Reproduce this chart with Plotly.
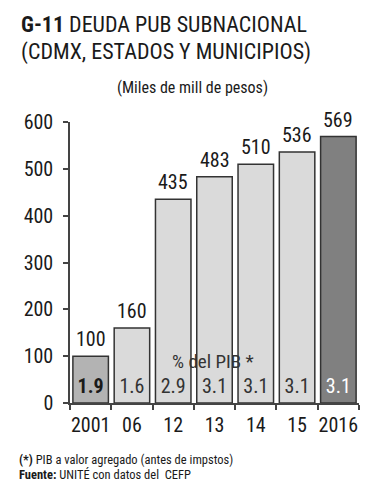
import plotly.graph_objects as go

categories = ["2001", "06", "12", "13", "14", "15", "2016"]
deuda = [100, 160, 435, 483, 510, 536, 569]
pct_pib = ["<b>1.9</b>", "1.6", "2.9", "3.1", "3.1", "3.1", "3.1"]
bar_colors = ["#b3b3b3", "#dadada", "#dadada", "#dadada", "#dadada", "#dadada", "#808080"]
pct_colors = ["#1a1a1a", "#333333", "#333333", "#333333", "#333333", "#333333", "#ffffff"]
y_ticks = [0, 100, 200, 300, 400, 500, 600]

FONT = "Roboto Condensed, Liberation Sans, sans-serif"
OFF = 8  # page body margin

fig = go.Figure()
fig.add_trace(go.Bar(
    x=categories, y=deuda,
    marker=dict(color=bar_colors, line=dict(color="#333333", width=1.5)),
    hoverinfo="skip", showlegend=False,
))
fig.add_trace(go.Scatter(
    x=categories, y=[32] * len(categories), mode="text", text=pct_pib,
    textposition="middle center",
    textfont=dict(family=FONT, size=20, color=pct_colors),
    cliponaxis=False, showlegend=False, hoverinfo="skip",
))

W = 289.0
H = 281.0
def px(x):
    return (x - 70) / W
def py(y):
    return (403 - y) / H

annotations = []
for i, (c, v) in enumerate(zip(categories, deuda)):
    annotations.append(dict(text=str(v), xref="x", yref="y", x=i, y=v, xanchor="center",
                            yanchor="bottom", yshift=3, showarrow=False,
                            font=dict(family=FONT, size=20, color="#1a1a1a")))

ann = [
    dict(text="<b>G-11</b> DEUDA PUB SUBNACIONAL", x=px(19), y=py(24), size=22),
    dict(text="(CDMX, ESTADOS Y MUNICIPIOS)", x=px(19), y=py(52), size=22),
    dict(text="<b>(*)</b> PIB a valor agregado (antes de impstos)", x=px(17), y=py(459), size=12.5),
    dict(text="<b>Fuente:</b> UNITÉ con datos del  CEFP", x=px(17), y=py(474), size=12.5),
]
for a in ann:
    annotations.append(dict(text=a["text"], xref="paper", yref="paper", x=a["x"], y=a["y"],
                            xanchor="left", yanchor="middle", showarrow=False,
                            font=dict(family=FONT, size=a["size"], color="#1a1a1a")))
annotations.append(dict(text="(Miles de mill de pesos)", xref="paper", yref="paper",
                        x=px(192), y=py(87), xanchor="center", yanchor="middle", showarrow=False,
                        font=dict(family=FONT, size=16, color="#1a1a1a")))
annotations.append(dict(text="% del PIB *", xref="x", yref="y", x=3, y=88,
                        xanchor="center", yanchor="middle", showarrow=False, xshift=-2,
                        font=dict(family=FONT, size=19, color="#333333")))

fig.update_layout(
    width=385 - OFF, height=500 - OFF,
    margin=dict(l=70 - OFF, r=26, t=122 - OFF, b=97),
    paper_bgcolor="white", plot_bgcolor="white",
    bargap=0.14,
    annotations=annotations,
    xaxis=dict(type="category", range=[-0.5, 6.5], showline=True, linecolor="#444444", linewidth=1.5,
               ticks="outside", tickson="boundaries", ticklen=5, tickcolor="#444444", tickwidth=1.5,
               tickangle=0, ticklabelstandoff=3,
               tickfont=dict(family=FONT, size=20, color="#1a1a1a"), showgrid=False, zeroline=False),
    yaxis=dict(range=[0, 600], tickvals=y_ticks, showline=True, linecolor="#444444", linewidth=1.5,
               ticks="outside", ticklen=5, tickcolor="#444444", tickwidth=1.5, ticklabelstandoff=6,
               tickfont=dict(family=FONT, size=20, color="#1a1a1a"), showgrid=False, zeroline=False),
)

fig.write_html("out.html")
